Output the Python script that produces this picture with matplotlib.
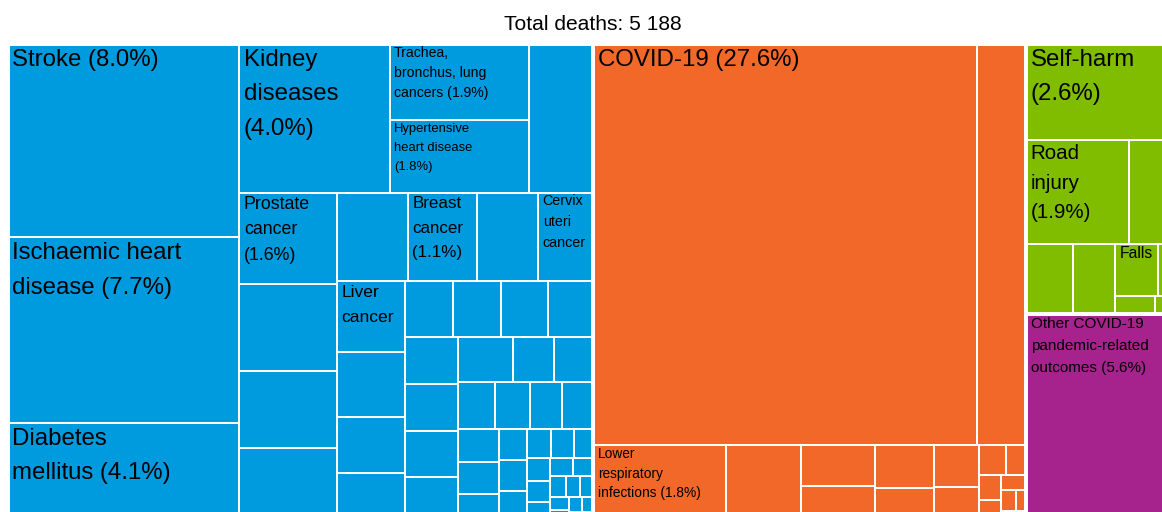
import matplotlib
matplotlib.use("Agg")
import matplotlib.pyplot as plt
from matplotlib.patches import Rectangle
from matplotlib.font_manager import FontProperties

# ---------------- data (shares of all deaths, %) ----------------
TOTAL_DEATHS = 5188

ncd_names = ["Stroke", "Ischaemic heart disease", "Diabetes mellitus", "Kidney diseases",
             "Trachea, bronchus, lung cancers", "Hypertensive heart disease", "",
             "Prostate cancer", "", "", "", "", "Breast cancer", "",
             "Cervix uteri cancer", "Liver cancer"] + [""] * 41
ncd_values = [8.0, 7.7, 4.1, 4.0, 1.9, 1.8, 1.72, 1.6, 1.53, 1.34, 1.30, 1.12, 1.10, 0.96,
              0.87, 0.86, 0.78, 0.68, 0.59, 0.487, 0.482, 0.472, 0.458, 0.453, 0.448,
              0.443, 0.438, 0.433, 0.33, 0.315, 0.31, 0.29, 0.275, 0.26, 0.242, 0.235,
              0.207, 0.155, 0.155, 0.155, 0.123, 0.123, 0.098, 0.095, 0.088, 0.08,
              0.074, 0.068, 0.06, 0.054, 0.049, 0.044, 0.039, 0.034, 0.03, 0.025, 0.02]

comm_names = ["COVID-19", "", "Lower respiratory infections"] + [""] * 16
comm_values = [27.6, 3.52, 1.83, 1.03, 0.54, 0.48, 0.456, 0.353, 0.335, 0.278, 0.146,
               0.107, 0.10, 0.085, 0.07, 0.055, 0.04, 0.03, 0.02]

inj_names = ["Self-harm", "Road injury", "", "", "", "Falls", "", "", ""]
inj_values = [2.6, 1.9, 0.89, 0.59, 0.54, 0.40, 0.18, 0.13, 0.07]

cov_names = ["Other COVID-19 pandemic-related outcomes"]
cov_values = [5.6]

groups = [
    (ncd_names, ncd_values, "#009ADE"),
    (comm_names, comm_values, "#F26829"),
    (inj_names, inj_values, "#80BC00"),
    (cov_names, cov_values, "#A6228C"),
]

# ---------------- figure ----------------
W_PX, H_PX, DPI = 1162, 512, 100
fig = plt.figure(figsize=(W_PX / DPI, H_PX / DPI), dpi=DPI)
ax = fig.add_axes([0, 0, 1, 1])
ax.set_xlim(0, W_PX)
ax.set_ylim(H_PX, 0)
ax.axis("off")

# treemap area (extends slightly past the visible canvas, as in the source)
TM_X0, TM_Y0, TM_W, TM_H = 8, 44, 1169, 478
PX2PT = 72 / DPI


def tile(items, x, y, w, h, out):
    """Recursive row-based squarified layout (rows judged by their largest item)."""
    if not items:
        return
    if len(items) == 1:
        out.append((items[0][1], x, y, w, h))
        return
    total = sum(v for v, _ in items)
    wide = w >= h
    side = h if wide else w
    extent = w if wide else h
    first = items[0][0]
    best, s, k = None, 0.0, 0
    for i, (v, _) in enumerate(items):
        s_new = s + v
        t = s_new / total * extent
        ln = first / s_new * side
        r = max(t / ln, ln / t)
        if best is not None and r > best:
            break
        best, s, k = r, s_new, i + 1
    row, rest = items[:k], items[k:]
    t = s / total * extent
    if k == len(items):
        pos = 0.0
        for v, p in row:
            ln = v / s * side
            if wide:
                out.append((p, x, y + pos, w, ln))
            else:
                out.append((p, x + pos, y, ln, h))
            pos += ln
        return
    if wide:
        tile(row, x, y, t, h, out)
        tile(rest, x + t, y, w - t, h, out)
    else:
        tile(row, x, y, w, t, out)
        tile(rest, x, y + t, w, h - t, out)


group_items = sorted(((sum(g[1]), gi) for gi, g in enumerate(groups)), reverse=True)
group_rects = []
tile(group_items, TM_X0, TM_Y0, TM_W, TM_H, group_rects)

leaves = []
for gi, gx, gy, gw, gh in group_rects:
    names, values, color = groups[gi]
    items = sorted(((v, (names[i], v, color)) for i, v in enumerate(values)),
                   key=lambda t: -t[0])
    tile(items, gx, gy, gw, gh, leaves)

for (name, v, color), x, y, w, h in leaves:
    ax.add_patch(Rectangle((x, y), w, h, facecolor=color, edgecolor="white",
                           linewidth=2 * PX2PT))
for gi, gx, gy, gw, gh in group_rects:
    ax.add_patch(Rectangle((gx, gy), gw, gh, fill=False, edgecolor="white",
                           linewidth=4 * PX2PT))

# ---------------- labels ----------------
FAMILY = "Liberation Sans"
renderer = fig.canvas.get_renderer()
WRAP_FRAC = 0.785
V_PAD = 18.5


def text_w(s, fpx):
    fp = FontProperties(family=FAMILY, size=fpx * PX2PT)
    return renderer.get_text_width_height_descent(s, fp, ismath=False)[0]


def wrap(words, fpx, maxw):
    lines, cur = [], ""
    for wd in words:
        if text_w(wd, fpx) > maxw:
            return None
        cand = wd if not cur else cur + " " + wd
        if text_w(cand, fpx) <= maxw:
            cur = cand
        else:
            lines.append(cur)
            cur = wd
    if cur:
        lines.append(cur)
    return lines


def need_h(n, f):
    return (1.2 + 1.45 * (n - 1)) * f + V_PAD


def fit(name, pct, w, h):
    sizes = [24 - 0.25 * i for i in range(45)]
    for text in (f"{name} ({pct:.1f}%)", name):
        for f in sizes:
            lines = wrap(text.split(), f, WRAP_FRAC * w)
            if lines and need_h(len(lines), f) <= h:
                return f, lines
    return None


for (name, v, color), x, y, w, h in leaves:
    if not name:
        continue
    res = fit(name, v, w, h)
    if res is None:
        continue
    f, lines = res
    for i, line in enumerate(lines):
        ax.text(x + 4.5, y + 0.9 * f + i * 1.45 * f, line, fontsize=f * PX2PT,
                family=FAMILY, color="black", ha="left", va="baseline")

total_str = f"{TOTAL_DEATHS:,}".replace(",", " ")
ax.text(TM_X0 + TM_W / 2, 30, f"Total deaths: {total_str}", fontsize=21 * PX2PT,
        family=FAMILY, color="black", ha="center", va="baseline")

fig.savefig("out.png", dpi=DPI)
